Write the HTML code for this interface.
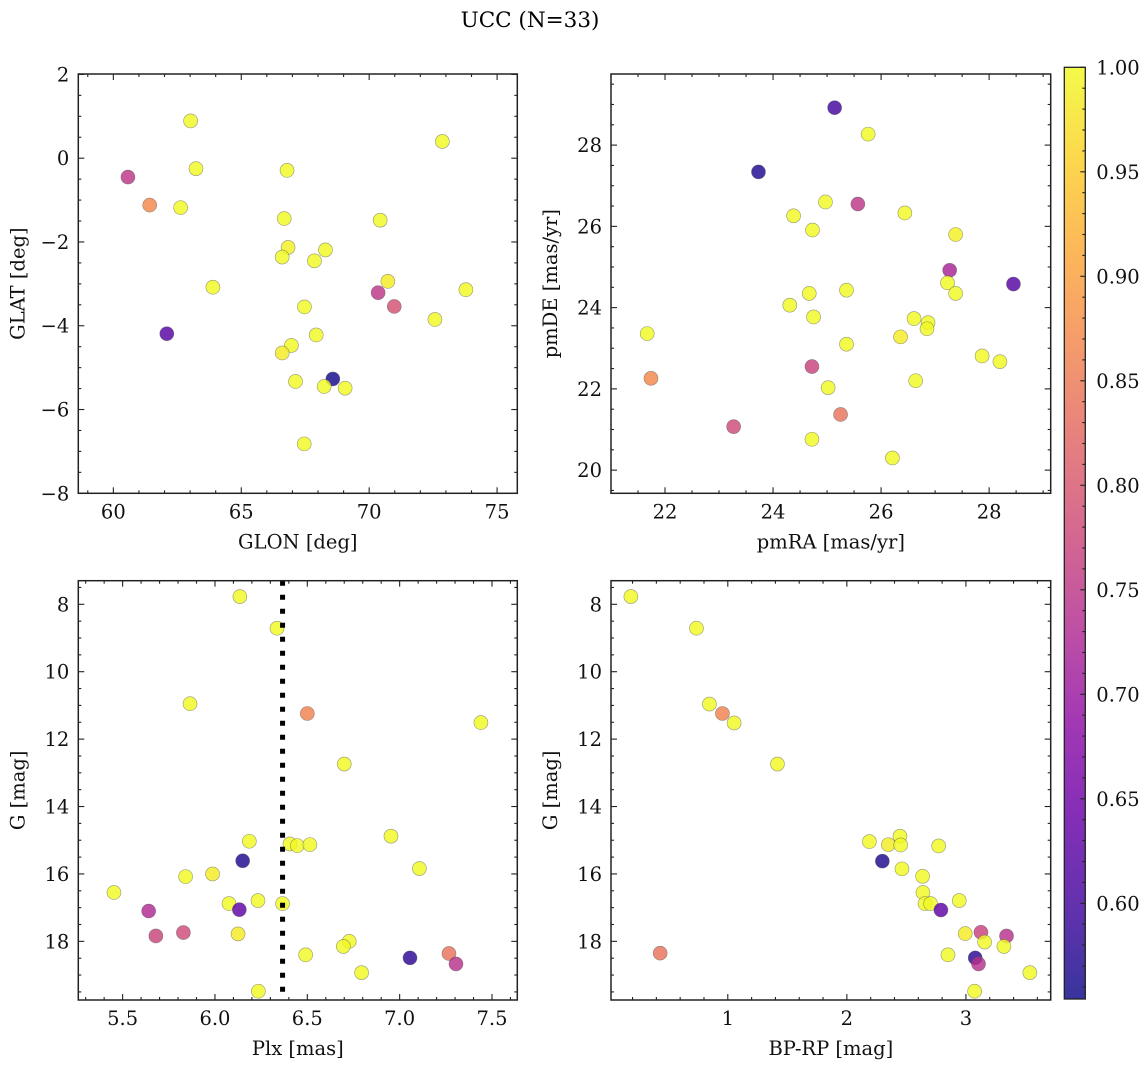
<!DOCTYPE html>
<html><head><meta charset="utf-8">
<style>
html,body{margin:0;padding:0;background:#fff;}
svg{display:block;font-family:"DejaVu Serif","Liberation Serif",serif;}
</style></head>
<body>
<svg id="fig" width="1148" height="1067" viewBox="0 0 1148 1067" xmlns="http://www.w3.org/2000/svg">
<defs>
<linearGradient id="plasma" x1="0" y1="1" x2="0" y2="0"></linearGradient>
</defs>
<text x="530" y="27" font-size="21.5" text-anchor="middle">UCC (N=33)</text>
<g id="plots"></g>
</svg>
<script>
// ---- Panel 1: GLON vs GLAT ----
const p1x = [63.02,63.23,60.57,61.42,62.63,63.89,62.09,66.79,66.68,66.83,66.60,68.29,67.86,70.43,72.86,70.73,70.35,70.98,73.78,72.57,67.47,67.93,66.96,66.60,68.58,67.12,68.24,69.06,67.46];
const p1y = [0.89,-0.25,-0.45,-1.12,-1.18,-3.08,-4.19,-0.29,-1.44,-2.13,-2.36,-2.19,-2.45,-1.48,0.40,-2.94,-3.21,-3.54,-3.14,-3.85,-3.55,-4.22,-4.47,-4.65,-5.27,-5.33,-5.45,-5.49,-6.82];
const p1c = [1,1,0.75,0.87,1,1,0.62,1,1,0.99,1,1,1,1,1,0.985,0.75,0.79,1,1,1,1,1,0.985,0.56,1,1,1,1];
// ---- Panel 2: pmRA vs pmDE ----
const p2x = [25.14,25.76,23.73,24.97,25.57,24.38,24.73,26.44,27.38,27.27,27.23,27.38,28.45,24.67,25.36,24.31,24.75,26.61,26.87,26.85,26.36,25.36,21.67,21.74,27.87,28.20,24.72,26.64,25.02,25.25,23.27,24.72,26.21];
const p2y = [28.92,28.27,27.34,26.60,26.55,26.26,25.91,26.33,25.80,24.92,24.61,24.35,24.58,24.35,24.43,24.06,23.77,23.73,23.63,23.48,23.28,23.10,23.36,22.26,22.81,22.67,22.55,22.20,22.03,21.37,21.07,20.76,20.30];
const p2c = [0.6,1,0.57,1,0.75,1,1,1,0.99,0.72,1,1,0.62,1,1,1,1,1,1,1,0.985,1,1,0.87,1,1,0.77,1,1,0.84,0.78,1,1];
// ---- Panel 3: Plx vs G ----
const p3x = [6.135,6.336,5.865,6.50,7.44,6.70,6.953,6.186,6.406,6.446,6.514,6.150,7.107,5.841,5.987,5.453,6.233,6.076,6.366,5.641,6.132,5.680,5.829,6.125,6.727,6.695,6.491,7.267,7.056,7.305,6.794,6.235];
const p3y = [7.77,8.71,10.95,11.24,11.51,12.74,14.88,15.03,15.11,15.16,15.13,15.61,15.84,16.08,16.00,16.55,16.79,16.88,16.88,17.10,17.06,17.84,17.74,17.78,18.00,18.15,18.40,18.36,18.49,18.67,18.93,19.48];
const p3c = [1,1,1,0.86,1,1,1,1,1,1,1,0.57,1,1,0.985,1,1,1,1,0.73,0.63,0.77,0.78,0.985,1,1,1,0.84,0.58,0.74,1,1];
const plxLine = 6.366;
// ---- Panel 4: BP-RP vs G ----
const p4x = [0.186,0.737,0.846,0.955,1.053,1.417,2.189,2.348,2.446,2.452,2.771,2.298,2.463,2.636,2.639,2.656,2.703,2.944,2.790,2.994,3.126,3.341,3.157,3.319,0.432,2.849,3.078,3.106,3.537,3.073];
const p4y = [7.77,8.71,10.96,11.24,11.52,12.74,15.04,15.13,14.88,15.14,15.17,15.62,15.85,16.07,16.55,16.88,16.88,16.79,17.07,17.77,17.73,17.84,18.02,18.15,18.35,18.40,18.49,18.67,18.93,19.48];
const p4c = [1,1,1,0.86,1,1,1,0.985,1,1,1,0.57,1,1,1,1,1,1,0.63,0.985,0.77,0.74,1,1,0.84,1,0.58,0.74,1,1];
// ---- colorbar ticks ----
const cbTicks = [0.60,0.65,0.70,0.75,0.80,0.85,0.90,0.95,1.00];
const cbMin = 0.5542, cbMax = 1.0;

const NS = "http://www.w3.org/2000/svg";
const plasmaStops = ["#0d0887","#41049d","#6a00a8","#8f0da4","#b12a90","#cc4778","#e16462","#f2844b","#fca636","#fcce25","#f0f921"];
function hex2rgb(h){return [parseInt(h.substr(1,2),16),parseInt(h.substr(3,2),16),parseInt(h.substr(5,2),16)];}
function plasma(t){
  t=Math.max(0,Math.min(1,t));
  const f=t*10, i=Math.min(9,Math.floor(f)), r=f-i;
  const a=hex2rgb(plasmaStops[i]), b=hex2rgb(plasmaStops[i+1]);
  return "rgb("+a.map((v,k)=>Math.round(v+(b[k]-v)*r)).join(",")+")";
}
function colorOf(v){return plasma((v-cbMin)/(cbMax-cbMin));}
function mk(tag, attrs, parent){
  const el=document.createElementNS(NS,tag);
  for(const k in attrs) el.setAttribute(k,attrs[k]);
  parent.appendChild(el); return el;
}
function fmt(v,dec){const s=v.toFixed(dec);return v<0?"\u2212"+s.substr(1):s;}
const root=document.getElementById("plots");
const FS=19.5;

function panel(cfg){
  const g=mk("g",{},root);
  
  
  const L=cfg.L,R=cfg.R,T=cfg.T,B=cfg.B;
  const sx=v=>L+(v-cfg.xlim[0])/(cfg.xlim[1]-cfg.xlim[0])*(R-L);
  const sy=v=>B-(v-cfg.ylim[0])/(cfg.ylim[1]-cfg.ylim[0])*(B-T);
  const inX=v=>{const p=sx(v);return p>=L-0.5&&p<=R+0.5;};
  const inY=v=>{const p=sy(v);return p>=Math.min(T,B)-0.5&&p<=Math.max(T,B)+0.5;};
  const pts=mk("g",{},g);
  
  
  for(let i=0;i<cfg.xs.length;i++){
    const c=mk("circle",{cx:sx(cfg.xs[i]),cy:sy(cfg.ys[i]),r:7,fill:colorOf(cfg.cs[i]),"fill-opacity":0.82,stroke:"#555","stroke-opacity":0.6,"stroke-width":0.6},pts);
    
    
  }
  if(cfg.vline!==undefined){
    const l=mk("line",{x1:sx(cfg.vline),x2:sx(cfg.vline),y1:T,y2:B,stroke:"#000","stroke-width":5,"stroke-dasharray":"5,9"},g);
    
    
  }
  const fr=mk("rect",{x:L,y:T,width:R-L,height:B-T,fill:"none",stroke:"#222","stroke-width":1.5},g);
  
  
  const tk=mk("g",{stroke:"#222","stroke-width":1.1},g);
  const eps=1e-9;
  for(let v=Math.ceil(cfg.xlim[0]/cfg.xminor-eps)*cfg.xminor; v<=cfg.xlim[1]+eps; v+=cfg.xminor){
    if(!inX(v)) continue;
    const isMaj=Math.abs(v/cfg.xmajor-Math.round(v/cfg.xmajor))<1e-6;
    const len=isMaj?6:3, x=sx(v);
    mk("line",{x1:x,x2:x,y1:B,y2:B-len},tk);
    mk("line",{x1:x,x2:x,y1:T,y2:T+len},tk);
    if(isMaj){
      const t=mk("text",{x:x,y:B+25,"font-size":FS,"text-anchor":"middle",fill:"#111"},g);
      t.textContent=fmt(v,cfg.xdec);
      
      
    }
  }
  const ylo=Math.min(cfg.ylim[0],cfg.ylim[1]), yhi=Math.max(cfg.ylim[0],cfg.ylim[1]);
  for(let v=Math.ceil(ylo/cfg.yminor-eps)*cfg.yminor; v<=yhi+eps; v+=cfg.yminor){
    if(!inY(v)) continue;
    const isMaj=Math.abs(v/cfg.ymajor-Math.round(v/cfg.ymajor))<1e-6;
    const len=isMaj?6:3, y=sy(v);
    mk("line",{x1:L,x2:L+len,y1:y,y2:y},tk);
    mk("line",{x1:R,x2:R-len,y1:y,y2:y},tk);
    if(isMaj){
      const t=mk("text",{x:L-9,y:y+7,"font-size":FS,"text-anchor":"end",fill:"#111"},g);
      t.textContent=fmt(Math.round(v*1000)/1000,0);
      
      
    }
  }
  const xl=mk("text",{x:(L+R)/2,y:B+55,"font-size":FS,"text-anchor":"middle",fill:"#111"},g);
  xl.textContent=cfg.xlabel;
  
  
  const yx=L-54, yc=(T+B)/2;
  const yl=mk("text",{x:yx,y:yc,"font-size":FS,"text-anchor":"middle",fill:"#111",transform:"rotate(-90 "+yx+" "+yc+")"},g);
  yl.textContent=cfg.ylabel;
  
  
}

panel({name:"glon-glat-panel",L:78.3,R:517.3,T:74,B:493.3,xlim:[58.63,75.79],ylim:[-8,2.01],xs:p1x,ys:p1y,cs:p1c,xmajor:5,xminor:1,ymajor:2,yminor:0.5,xdec:0,xlabel:"GLON [deg]",ylabel:"GLAT [deg]"});
panel({name:"pm-panel",L:611,R:1050.7,T:74,B:493.3,xlim:[21.0,29.14],ylim:[19.43,29.75],xs:p2x,ys:p2y,cs:p2c,xmajor:2,xminor:0.5,ymajor:2,yminor:0.5,xdec:0,xlabel:"pmRA [mas/yr]",ylabel:"pmDE [mas/yr]"});
panel({name:"plx-g-panel",L:78.3,R:517.3,T:580.7,B:1000,xlim:[5.26,7.637],ylim:[19.74,7.30],xs:p3x,ys:p3y,cs:p3c,vline:plxLine,xmajor:0.5,xminor:0.1,ymajor:2,yminor:0.5,xdec:1,xlabel:"Plx [mas]",ylabel:"G [mag]"});
panel({name:"cmd-panel",L:611,R:1050.7,T:580.7,B:1000,xlim:[0.019,3.712],ylim:[19.74,7.30],xs:p4x,ys:p4y,cs:p4c,xmajor:1,xminor:0.2,ymajor:2,yminor:0.5,xdec:0,xlabel:"BP-RP [mag]",ylabel:"G [mag]"});

(function(){
  const grad=document.getElementById("plasma");
  for(let i=0;i<=10;i++) mk("stop",{offset:(i*10)+"%","stop-color":plasmaStops[i]},grad);
  const L=1064.3,R=1085.3,T=67.3,B=999;
  const g=mk("g",{},root);
  
  
  mk("rect",{x:L,y:T,width:R-L,height:B-T,fill:"url(#plasma)","fill-opacity":0.82},g);
  mk("rect",{x:L,y:T,width:R-L,height:B-T,fill:"none",stroke:"#222","stroke-width":1.3},g);
  const sy=v=>B-(v-cbMin)/(cbMax-cbMin)*(B-T);
  for(let k=56;k<=100;k++){
    const v=k/100, y=sy(v);
    if(y<T-0.5||y>B) continue;
    const maj=(k%5===0);
    mk("line",{x1:R,x2:R-(maj?5:3),y1:y,y2:y,stroke:"#222","stroke-width":1.1},g);
  }
  cbTicks.forEach(v=>{
    const t=mk("text",{x:R+11,y:sy(v)+7,"font-size":FS,fill:"#111"},g);
    t.textContent=v.toFixed(2);
    
    
  });
})();
</script>
</body></html>
